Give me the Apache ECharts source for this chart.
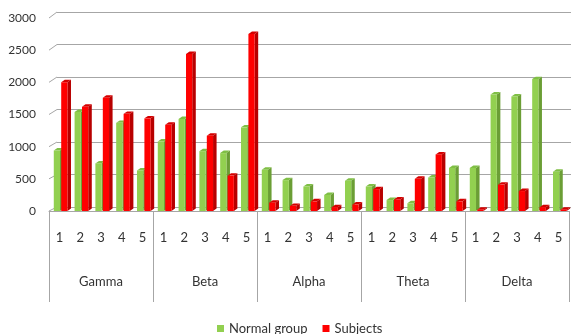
<!DOCTYPE html>
<html>
<head>
<meta charset="utf-8">
<title>Band power: Normal group vs Subjects</title>
<script src="https://cdn.jsdelivr.net/npm/echarts@6/dist/echarts.min.js"></script>
<style>
  html, body { margin: 0; padding: 0; background: #ffffff; }
  #chart { width: 571px; height: 334px; }
</style>
</head>
<body>
<div id="chart"></div>
<script>
// Frequency bands and the five channels shown in each
const bands = ['Gamma', 'Beta', 'Alpha', 'Theta', 'Delta'];
const channels = ['1', '2', '3', '4', '5'];

// Values per band, channels 1..5
const normalGamma = [940, 1540, 740, 1370, 630];
const normalBeta  = [1080, 1430, 930, 900, 1300];
const normalAlpha = [640, 480, 380, 250, 470];
const normalTheta = [380, 170, 120, 520, 670];
const normalDelta = [670, 1810, 1780, 2050, 610];

const subjGamma = [2000, 1620, 1760, 1510, 1440];
const subjBeta  = [1340, 2440, 1170, 550, 2750];
const subjAlpha = [130, 80, 150, 60, 100];
const subjTheta = [340, 180, 500, 880, 150];
const subjDelta = [20, 410, 310, 60, 20];

// Value axis ticks
const yTicks = [0, 500, 1000, 1500, 2000, 2500, 3000];

const normalGroup = [].concat(normalGamma, normalBeta, normalAlpha, normalTheta, normalDelta);
const subjects = [].concat(subjGamma, subjBeta, subjAlpha, subjTheta, subjDelta);

const categories = [];
bands.forEach(b => channels.forEach(c => categories.push(b + '|' + c)));

const FONT = 'Lato, "Open Sans", sans-serif';
const TEXT = '#333333';
const LINE = '#A6A6A6';

// Columns with a lit front, a shaded side face and a top face
function column(offsetFrac, colors) {
  return function (params, api) {
    const idx = api.value(0);
    const val = api.value(1);
    const top = api.coord([idx, val]);
    const base = api.coord([idx, 0]);
    const band = api.size([1, 0])[0];
    const w = band * 0.30;
    const d = band * 0.17;
    const dy = d * 0.7;
    const x0 = top[0] + band * offsetFrac;
    const x1 = x0 + w;
    const yt = top[1];
    const yb = base[1];
    return {
      type: 'group',
      children: [
        { type: 'polygon', shape: { points: [[x1, yt], [x1 + d, yt - dy], [x1 + d, yb - dy], [x1, yb]] },
          style: { fill: colors.side } },
        { type: 'polygon', shape: { points: [[x0, yt], [x0 + d, yt - dy], [x1 + d, yt - dy], [x1, yt]] },
          style: { fill: colors.top } },
        { type: 'rect', shape: { x: x0, y: yt, width: w, height: yb - yt },
          style: { fill: colors.front } }
      ]
    };
  };
}

const green = { front: '#92D050', side: '#6B9E35', top: '#7FBF45' };
const red = { front: '#FF0000', side: '#B80000', top: '#D40000' };

const chart = echarts.init(document.getElementById('chart'), null, { renderer: 'canvas' });

chart.setOption({
  animation: false,
  backgroundColor: '#ffffff',
  textStyle: { fontFamily: FONT },
  grid: [
    { left: 49, right: 2, top: 18, bottom: 123 },
    { left: 57, right: 0, top: 12, bottom: 127 }
  ],
  legend: {
    data: ['Normal group', 'Subjects'],
    left: 212,
    top: 317,
    icon: 'rect',
    itemWidth: 7,
    itemHeight: 7,
    itemGap: 15,
    textStyle: { fontFamily: FONT, fontSize: 13, color: TEXT }
  },
  xAxis: [
    {
      type: 'category', gridIndex: 0, data: categories,
      axisLine: { show: true, lineStyle: { color: LINE, width: 1 } },
      axisTick: { show: false },
      axisLabel: { interval: 0, margin: 20, fontSize: 13, color: TEXT, fontFamily: FONT,
        formatter: v => v.split('|')[1] }
    },
    {
      type: 'category', gridIndex: 0, data: bands, position: 'bottom',
      axisLine: { show: false },
      axisTick: { show: true, interval: 0, length: 91, lineStyle: { color: LINE, width: 1 } },
      axisLabel: { interval: 0, margin: 64, fontSize: 13, color: TEXT, fontFamily: FONT }
    },
    {
      type: 'category', gridIndex: 1, data: categories, show: false
    }
  ],
  yAxis: [
    {
      type: 'value', gridIndex: 0, min: yTicks[0], max: yTicks[yTicks.length - 1], interval: 500,
      axisLine: { show: false }, axisTick: { show: false }, splitLine: { show: false },
      axisLabel: { margin: 13, fontSize: 12, color: TEXT, fontFamily: FONT,
        formatter: v => String(v) }
    },
    {
      type: 'value', gridIndex: 1, min: yTicks[0], max: yTicks[yTicks.length - 1], interval: 500,
      axisLine: { show: false }, axisTick: { show: false }, axisLabel: { show: false },
      splitLine: { show: true, lineStyle: { color: LINE, width: 1 } }
    }
  ],
  series: [
    {
      name: 'Normal group', type: 'custom', xAxisIndex: 0, yAxisIndex: 0,
      itemStyle: { color: green.front },
      renderItem: column(-0.27, green),
      encode: { x: 0, y: 1 },
      data: normalGroup.map((v, i) => [i, v])
    },
    {
      name: 'Subjects', type: 'custom', xAxisIndex: 0, yAxisIndex: 0,
      itemStyle: { color: red.front },
      renderItem: column(0.087, red),
      encode: { x: 0, y: 1 },
      data: subjects.map((v, i) => [i, v])
    }
  ]
});

// Short slanted strokes joining each back-wall gridline to the front edge
const slants = yTicks.map(v => {
  const yFront = chart.convertToPixel({ yAxisIndex: 0 }, v);
  const yBack = chart.convertToPixel({ yAxisIndex: 1 }, v);
  return {
    type: 'line',
    shape: { x1: 49, y1: yFront, x2: 57, y2: yBack },
    style: { stroke: LINE, lineWidth: 1 },
    silent: true
  };
});
chart.setOption({ graphic: slants });
</script>
</body>
</html>
